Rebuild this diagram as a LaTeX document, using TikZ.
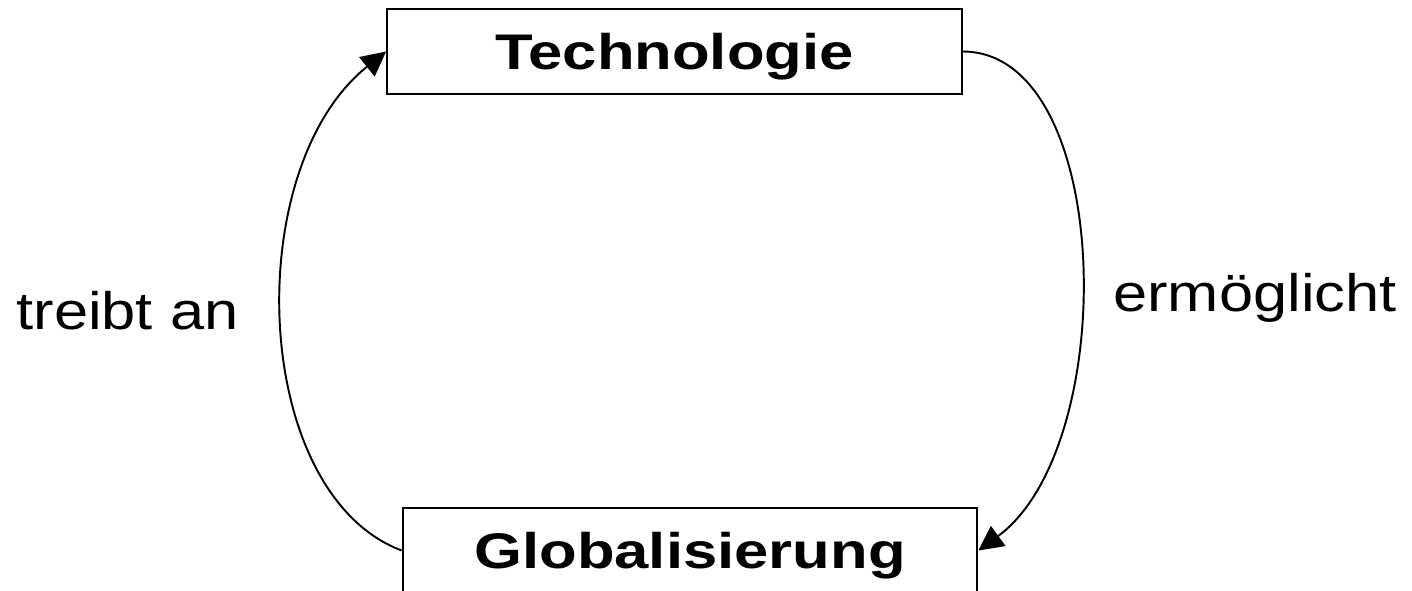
\documentclass[tikz,border=0pt]{standalone}
\usepackage{fontspec}
\setmainfont{Liberation Sans}
\newfontfamily\boxfont[FakeStretch=1.23]{Liberation Sans}
\newfontfamily\edgefont[FakeStretch=1.165]{Liberation Sans}
\usetikzlibrary{arrows.meta}

\begin{document}
\begin{tikzpicture}[
    x=0.02cm, y=-0.02cm,
    box/.style={
      rectangle, draw=black, line width=1.1pt, fill=white,
      minimum width=11.5cm, minimum height=1.7cm, inner sep=0pt,
      text height=21pt, text depth=1pt,
      font=\boxfont\bfseries\fontsize{28.5}{34}\selectfont
    },
    lbl/.style={anchor=base, font=\edgefont\fontsize{30}{36}\selectfont},
    arr/.style={-{Triangle[length=14pt,width=14pt]}, line width=1.1pt}
  ]
    \useasboundingbox (0,0) rectangle (1412,591);

    \node[box] (tech) at (674.5,51.5) {Technologie};
    \node[box] (glob) at (690,550.5)  {Globalisierung};

    \node[lbl] (drive)  at (127.5,329) {treibt an};
    \node[lbl] (enable) at (1255,311.7) {ermöglicht};

    \draw[arr] (glob.west) .. controls (250,493) and (240,168) .. (tech.west);
    \draw[arr] (tech.east) .. controls (1114,52) and (1121,446) .. (glob.east);
  \end{tikzpicture}
\end{document}
